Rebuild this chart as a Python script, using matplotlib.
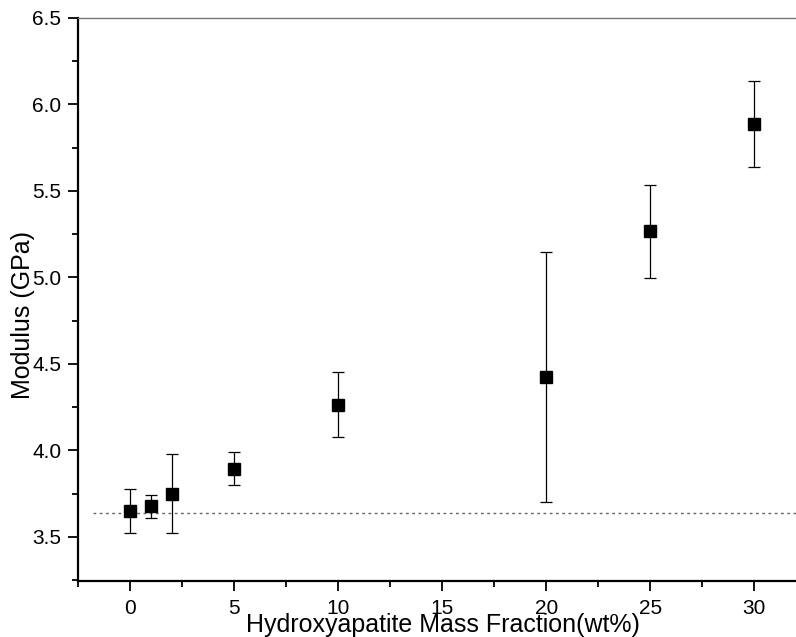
import matplotlib
matplotlib.use("Agg")
import matplotlib.pyplot as plt
from matplotlib.ticker import MultipleLocator, FormatStrFormatter

plt.rcParams['font.family'] = ['Liberation Sans', 'DejaVu Sans']

ha_fraction = [0, 1, 2, 5, 10, 20, 25, 30]
modulus = [3.647, 3.676, 3.748, 3.894, 4.265, 4.423, 5.267, 5.886]
err_low = [3.521, 3.609, 3.521, 3.800, 4.075, 3.700, 4.994, 5.637]
err_high = [3.775, 3.742, 3.977, 3.990, 4.454, 5.149, 5.537, 6.133]
baseline = 3.641
baseline_span = [-1.8, 32.0]

lower = [m - l for m, l in zip(modulus, err_low)]
upper = [h - m for m, h in zip(modulus, err_high)]

fig = plt.figure(figsize=(7.96, 6.37), dpi=100)
ax = fig.add_axes([78/796, 1 - 581/637, 1 - 78/796, (581 - 18)/637])

ax.plot(baseline_span, [baseline, baseline], linestyle=(0, (2, 2.5)), color='#666666', lw=1.0)
ax.errorbar(ha_fraction, modulus, yerr=[lower, upper], fmt='s', color='black',
            markersize=8.2, ecolor='black', elinewidth=0.9, capsize=4.1, capthick=0.9, zorder=3)

ax.set_xlim(-2.5, 32.0)
ax.set_ylim(3.245, 6.5)
ax.xaxis.set_major_locator(MultipleLocator(5))
ax.xaxis.set_minor_locator(MultipleLocator(2.5))
ax.yaxis.set_major_locator(MultipleLocator(0.5))
ax.yaxis.set_minor_locator(MultipleLocator(0.25))
ax.yaxis.set_major_formatter(FormatStrFormatter('%.1f'))

ax.spines['right'].set_visible(False)
ax.spines['top'].set_color('#777777')
ax.spines['top'].set_linewidth(1.0)
ax.spines['left'].set_linewidth(1.6)
ax.spines['bottom'].set_linewidth(1.6)

ax.tick_params(which='major', direction='out', length=7, width=1.3, labelsize=15)
ax.tick_params(axis='x', which='major', pad=6)
ax.tick_params(axis='y', which='major', pad=5)
ax.tick_params(which='minor', direction='out', length=4, width=1.3)

ax.set_xlabel('Hydroxyapatite Mass Fraction(wt%)', fontsize=18, va='baseline')
ax.set_ylabel('Modulus (GPa)', fontsize=18, va='center')
ax.xaxis.set_label_coords(0.508, -0.09)
ax.yaxis.set_label_coords(-0.076, 0.472)

fig.savefig('out.png', dpi=100)
